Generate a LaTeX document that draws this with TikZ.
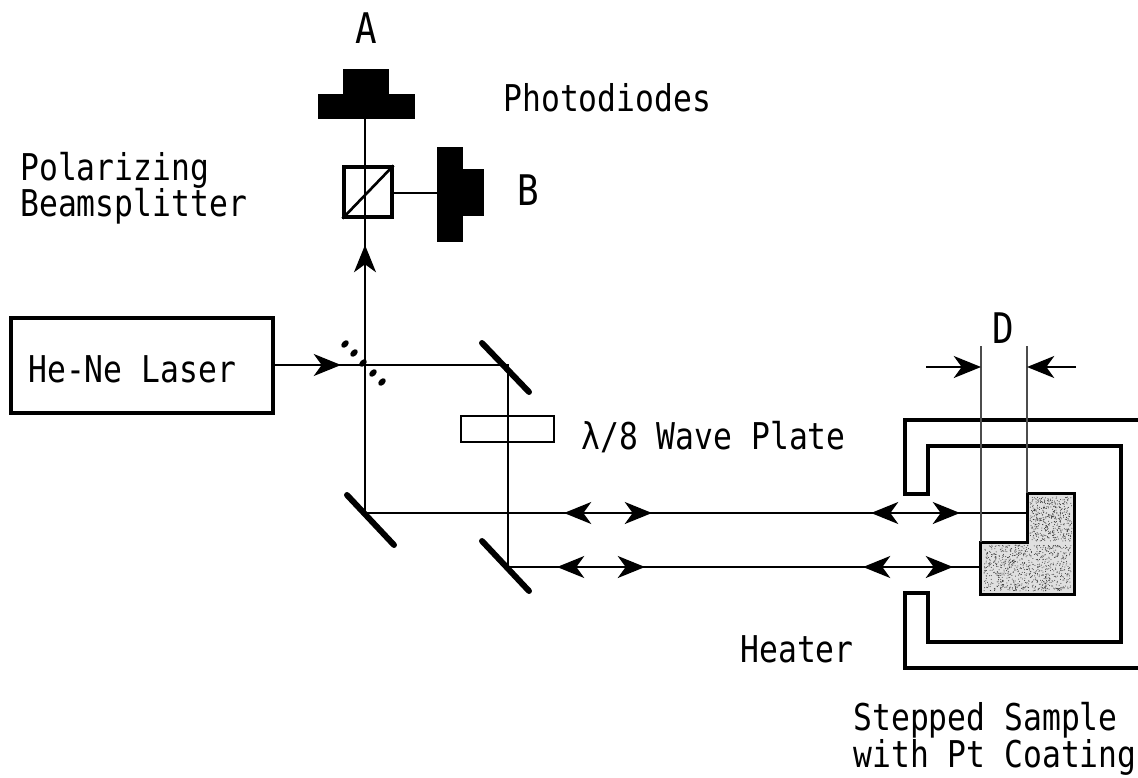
\documentclass[tikz,border=0pt]{standalone}
\usepackage{fontspec}
\newfontfamily\labelfont[FakeStretch=0.85]{DejaVu Sans Mono}
\usetikzlibrary{arrows.meta, positioning}
\tikzset{
    beam/.style={line width=1.3pt},
    thinline/.style={line width=0.6pt, black!70},
    beamhead/.tip={Stealth[length=15.5pt, width=12.5pt, inset=4.5pt]},
    tipbeam/.style={-beamhead},
    bothbeam/.style={beamhead-beamhead},
    mirror/.style={line width=3.4pt, line cap=round},
    wall/.style={line width=1.9pt},
    part/.style={draw, inner sep=0pt, line width=1.8pt},
    diode/.style={fill=black, inner sep=0pt},
    label/.style={font=\labelfont\fontsize{21}{20.7}\selectfont, inner sep=0pt, align=left},
    biglabel/.style={font=\labelfont\fontsize{24}{26}\selectfont, inner sep=0pt},
}
\begin{document}
\begin{tikzpicture}[x=0.02cm, y=-0.02cm]
    \useasboundingbox (0, 0) rectangle (1138, 777);

    % optical parts
    \node[part, minimum width=5.24cm, minimum height=1.9cm] (laser) at (142, 365.5) {};
    \node[part, minimum width=0.96cm, minimum height=1cm] (cube) at (368, 192) {};
    \node[part, line width=1.3pt, minimum width=1.86cm, minimum height=0.52cm] (plate) at (507.5, 429) {};

    % photodiodes
    \node[diode, minimum width=0.92cm, minimum height=0.52cm] (diodeAtop) at (366, 82) {};
    \node[diode, minimum width=1.94cm, minimum height=0.5cm] (diodeA) at (366.5, 106.5) {};
    \node[diode, minimum width=0.52cm, minimum height=1.9cm] (diodeB) at (450, 194.5) {};
    \node[diode, minimum width=0.42cm, minimum height=0.94cm] (diodeBtop) at (473, 192.5) {};

    % beam corners
    \coordinate (split) at (365, 365);
    \coordinate (mirrorA) at (508, 365);
    \coordinate (mirrorB) at (365, 513);
    \coordinate (mirrorC) at (508, 567);
    \coordinate (stepup) at (1027, 513);
    \coordinate (steplow) at (980, 567);
    \coordinate (cubeout) at (392, 193);
    \coordinate (diodeBin) at (437, 193);
    \coordinate (tipup) at (365, 245);
    \coordinate (tiplaser) at (341, 365);

    % beams
    \draw[beam] (diodeA.south -| split) -- (split);
    \draw[beam] (cubeout) -- (diodeBin);
    \draw[beam] (laser.east |- split) -- (mirrorA) -- (mirrorC) -- (steplow);
    \draw[beam] (split) -- (mirrorB) -- (stepup);
    \draw[line width=1.5pt] (cube.south west) -- (cube.north east);
    \draw[beam, tipbeam] (split) -- (tipup);
    \draw[beam, tipbeam] (laser.east |- split) -- (tiplaser);
    \foreach \name/\xa/\xb/\y in {upL/564/652/513, upR/871/960/513, lowL/557/645/567, lowR/863/953/567} {
        \coordinate (\name a) at (\xa, \y);
        \coordinate (\name b) at (\xb, \y);
        \draw[beam, bothbeam] (\name a) -- (\name b);
    }

    % mirrors
    \draw[mirror] (482, 343) -- (529, 392);
    \draw[mirror] (347, 495) -- (394, 545);
    \draw[mirror] (482, 541) -- (529, 591);
    \foreach \x/\y in {345/344, 354/353, 363/363, 373/373, 382/382}
        \fill[rotate around={45:(\x, \y)}] (\x, \y) ellipse (4.4 and 3);

    % heater and sample
    \draw[wall] (1138, 420) -| (905, 494) -- (928, 494) |- (1121, 446) |- (928, 642) |- (905, 593) |- (1138, 668);
    \fill[black!12] (1027, 493) -| (1074, 594) -| (980, 542) -| cycle;
    \pgfmathsetseed{7}
    \foreach \i in {1,...,450}
        \fill[black!80] ({1030+42*rnd}, {497+44*rnd}) circle (0.5);
    \foreach \i in {1,...,800}
        \fill[black!80] ({984+87*rnd}, {545+46*rnd}) circle (0.5);
    \draw[line width=1.7pt] (1027, 493) -| (1074, 594) -| (980, 542) -| cycle;

    % step width
    \coordinate (stepL) at (981, 346);
    \coordinate (stepR) at (1027, 346);
    \coordinate (sampleL) at (981, 542);
    \coordinate (sampleR) at (1027, 493);
    \draw[thinline] (stepL) -- (sampleL);
    \draw[thinline] (stepR) -- (sampleR);
    \coordinate (arrowL) at (926, 367);
    \coordinate (arrowR) at (1076, 367);
    \draw[beam, tipbeam] (arrowL) -- (arrowL -| stepL);
    \draw[beam, tipbeam] (arrowR) -- (arrowR -| stepR);

    % labels
    \node[biglabel, anchor=base] (a) at (366, 44) {A};
    \node[biglabel, anchor=base] (b) at (528, 205) {B};
    \node[biglabel, anchor=base] (d) at (1003, 343) {D};
    \node[label, anchor=base west] (diodes) at (503, 112) {Photodiodes};
    \node[label, anchor=west] (polar) at (20, 188) {Polarizing\\Beamsplitter};
    \node[label, anchor=base west] (he) at (28, 382) {He-Ne Laser};
    \node[label, anchor=base west] (wave) at (581, 449) {λ/8 Wave Plate};
    \node[label, anchor=base west] (heater) at (740, 662) {Heater};
    \node[label, anchor=west] (sample) at (853, 739) {Stepped Sample\\with Pt Coating};
\end{tikzpicture}
\end{document}
